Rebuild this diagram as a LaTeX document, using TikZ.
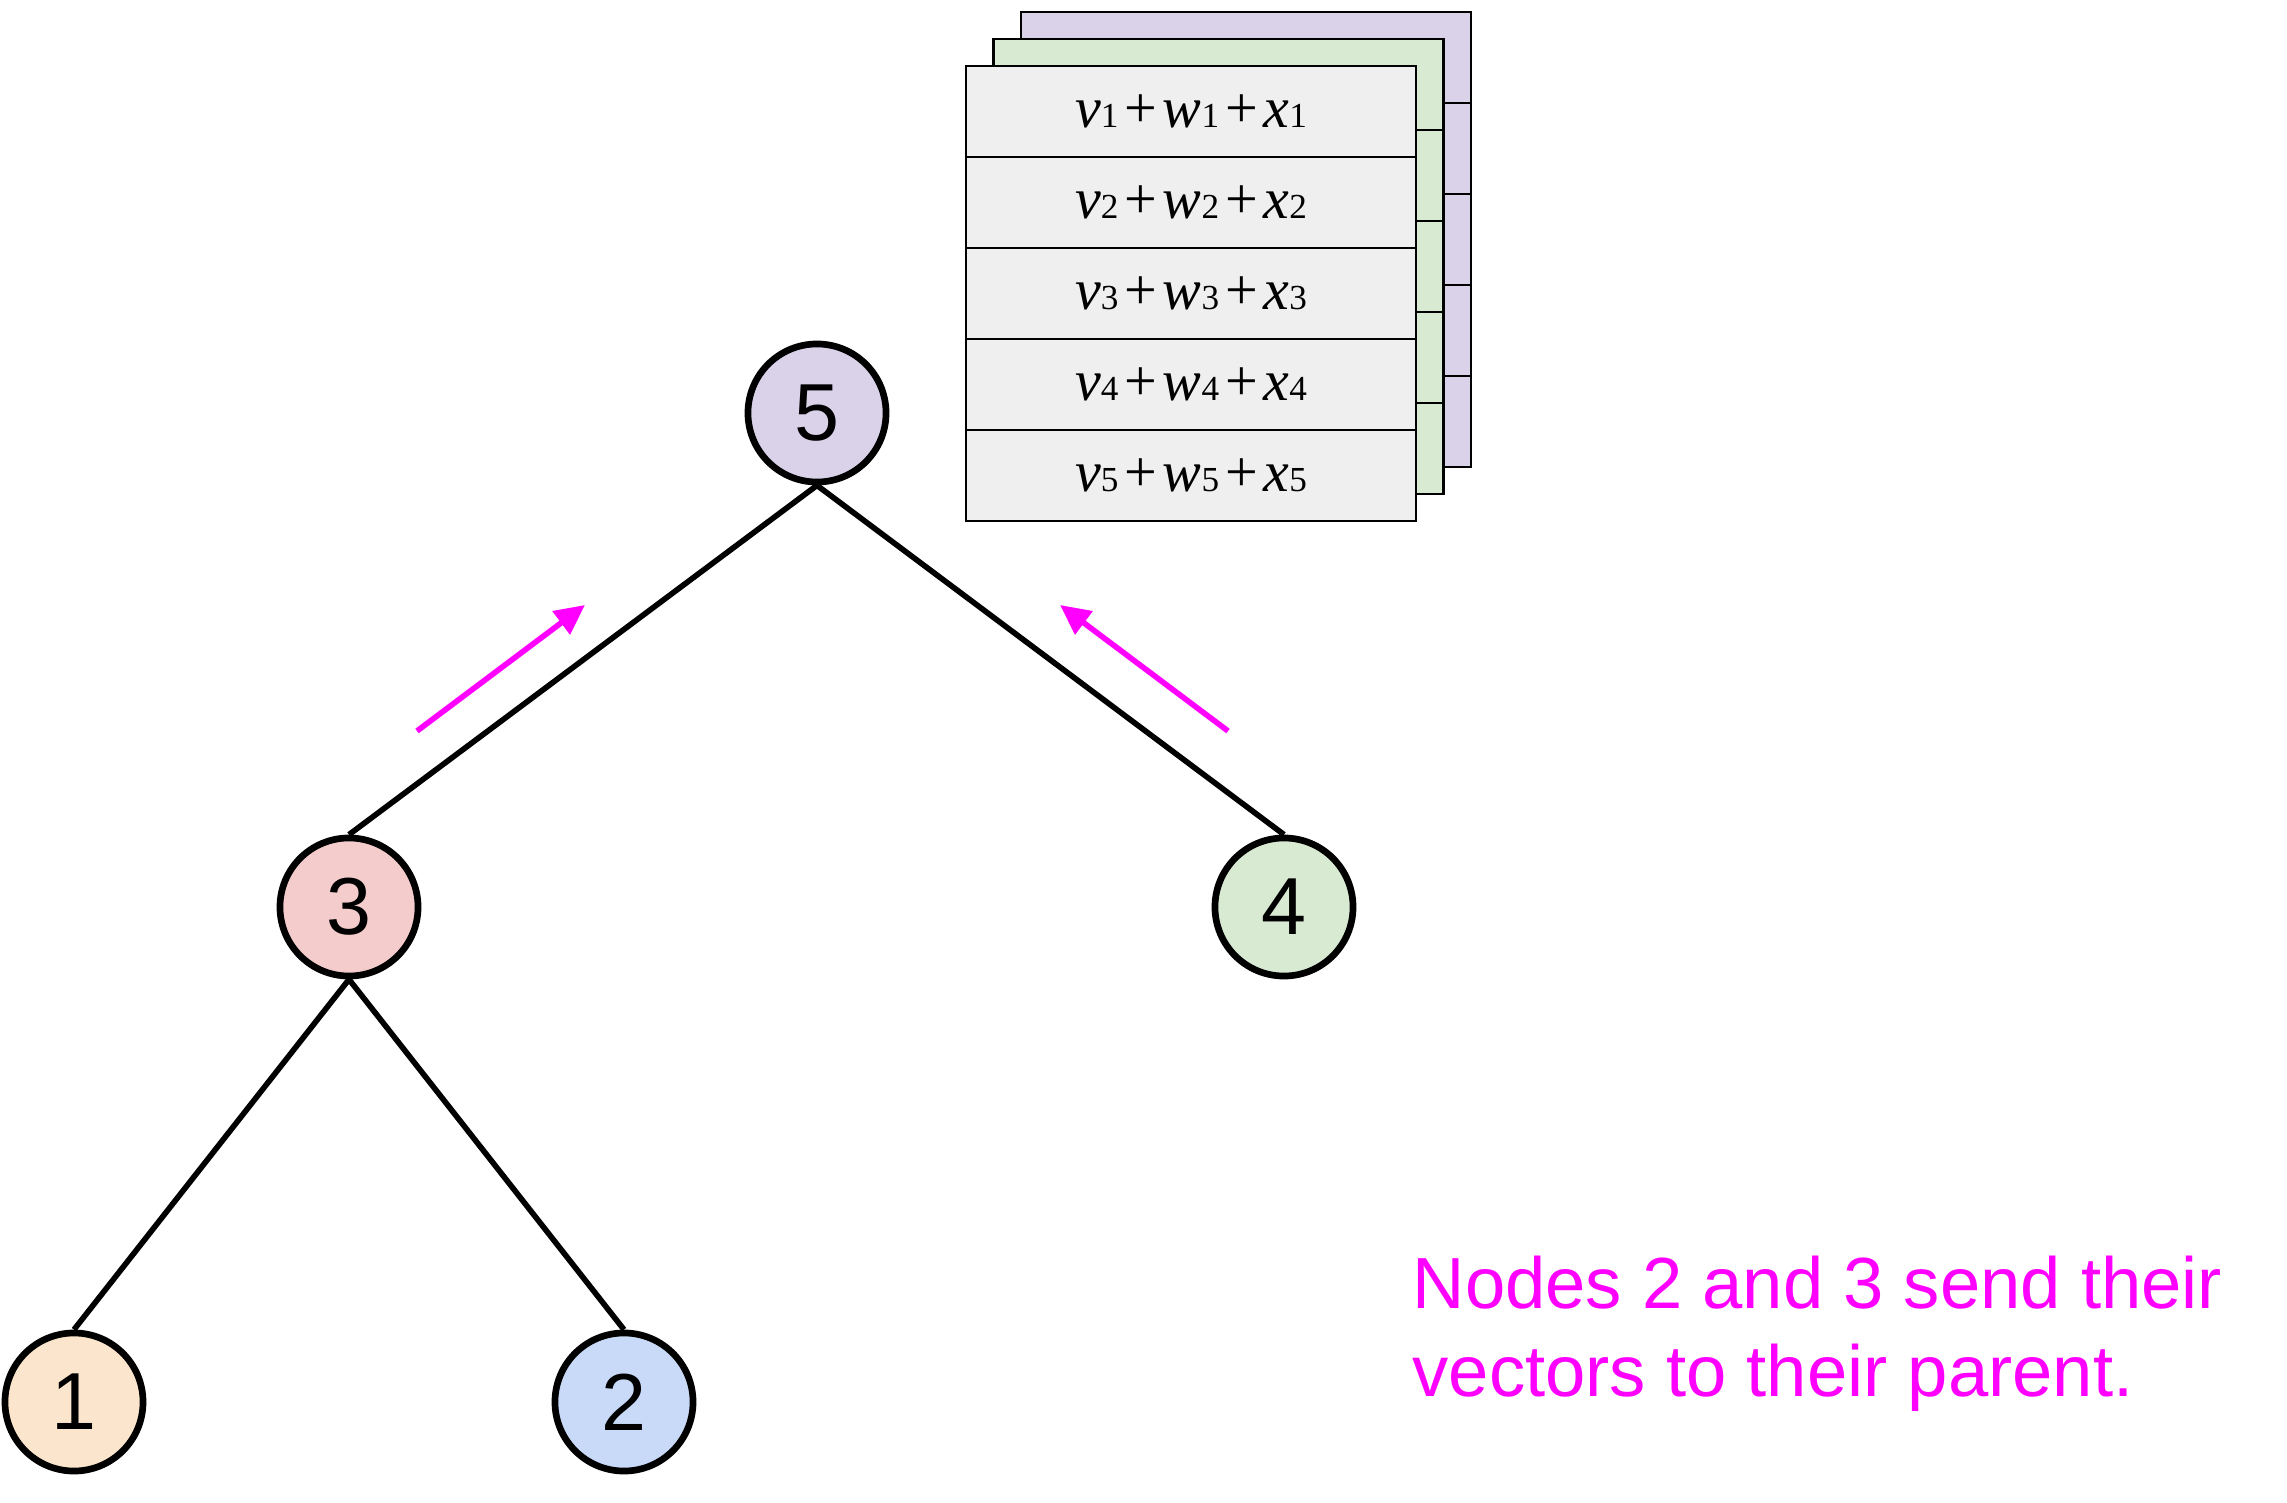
\documentclass[tikz,border=0pt]{standalone}
\usepackage{fontspec}
\setmainfont{Liberation Sans}
\newfontfamily\tabfont{Liberation Serif}
\usetikzlibrary{arrows.meta}

\definecolor{lilac}{HTML}{D9D2E9}
\definecolor{mint}{HTML}{D9EAD3}
\definecolor{rose}{HTML}{F4CCCC}
\definecolor{peach}{HTML}{FCE5CD}
\definecolor{sky}{HTML}{C9DAF8}
\definecolor{cellgray}{HTML}{EFEFEF}
\definecolor{hot}{HTML}{FF00FF}

\newcommand\sumcell[1]{{\tabfont\fontsize{16.5}{16.5}\selectfont\itshape v}{\tabfont\fontsize{10}{10}\selectfont #1}\,{\tabfont\fontsize{16.5}{16.5}\selectfont +}\,{\tabfont\fontsize{16.5}{16.5}\selectfont\itshape w}{\tabfont\fontsize{10}{10}\selectfont #1}\,{\tabfont\fontsize{16.5}{16.5}\selectfont +}\,{\tabfont\fontsize{16.5}{16.5}\selectfont\itshape x}{\tabfont\fontsize{10}{10}\selectfont #1}}

\tikzset{
  vertex/.style={circle, draw, line width=1.9pt, minimum size=1.38cm, inner sep=0pt,
    font=\fontsize{23}{23}\selectfont},
  link/.style={line width=1.6pt},
  sendup/.style={draw=hot, line width=1.6pt, -{Triangle[length=8.5pt,width=8pt]}},
  cell/.style={rectangle, draw, line width=0.7pt, minimum width=4.5cm, minimum height=0.91cm,
    inner sep=0pt, fill=cellgray},
  layer/.style={draw, line width=0.7pt}
}

\begin{document}
\begin{tikzpicture}[x=0.01cm, y=-0.01cm]
\useasboundingbox (0,0) rectangle (2287,1503);

% stacked tables behind
\foreach \dx/\dy/\col in {55/-54/lilac, 27.5/-27/mint}
{
  \foreach \r in {0,...,4}
    \draw[layer, fill=\col] (966+\dx,66+\dy+91*\r) rectangle ++(450,91);
}

% front table
\foreach \r in {1,...,5}
  \node[cell] (row\r) at (1191,20.5+91*\r) {\sumcell{\r}};

% tree
\node[vertex, fill=lilac] (n5) at (817,413) {5};
\node[vertex, fill=rose] (n3) at (349,907) {3};
\node[vertex, fill=mint] (n4) at (1284,907) {4};
\node[vertex, fill=peach] (n1) at (74,1402) {1};
\node[vertex, fill=sky] (n2) at (624,1402) {2};

\draw[link] (n5.south)--(n3.north);
\draw[link] (n5.south)--(n4.north);
\draw[link] (n3.south)--(n1.north);
\draw[link] (n3.south)--(n2.north);

% messages to the parent
\coordinate (from3) at (417,731);
\coordinate (to3) at (585,605);
\coordinate (from4) at (1228,731);
\coordinate (to4) at (1060,605);
\draw[sendup] (from3)--(to3);
\draw[sendup] (from4)--(to4);

\node[anchor=base west, align=left, text=hot, font=\fontsize{20.6}{24.9}\selectfont, inner sep=0pt]
  (note) at (1412,1396) {Nodes 2 and 3 send their\\vectors to their parent.};
\end{tikzpicture}
\end{document}
